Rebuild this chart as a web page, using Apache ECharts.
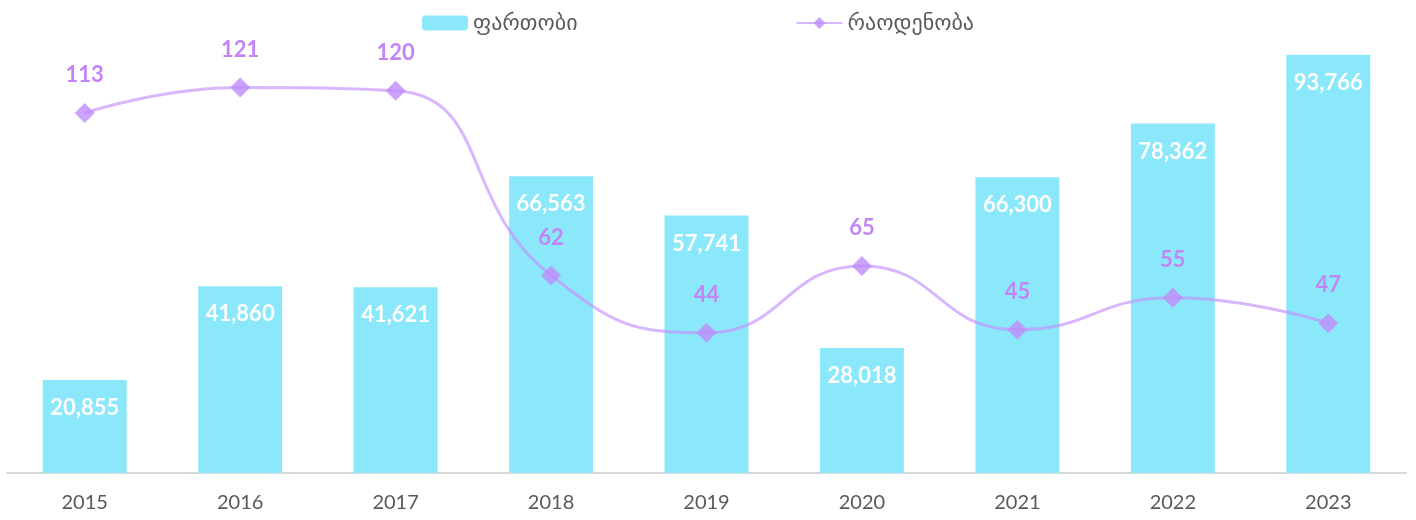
<!DOCTYPE html>
<html>
<head>
<meta charset="utf-8">
<script src="https://cdn.jsdelivr.net/npm/echarts@6/dist/echarts.min.js"></script>
<style>
  html, body { margin: 0; padding: 0; background: #fff; }
  #chart { width: 1416px; height: 520px; }
</style>
</head>
<body>
<div id="chart"></div>
<script>
var years = ['2015', '2016', '2017', '2018', '2019', '2020', '2021', '2022', '2023'];
var area = [20855, 41860, 41621, 66563, 57741, 28018, 66300, 78362, 93766];
var count = [113, 121, 120, 62, 44, 65, 45, 55, 47];

var font = 'Lato, "DejaVu Sans", sans-serif';
var myChart = echarts.init(document.getElementById('chart'));
myChart.setOption({
    animation: false,
    textStyle: { fontFamily: font },
    legend: {
        top: 7,
        left: 417,
        itemWidth: 46,
        itemHeight: 15,
        itemGap: 218,
        textStyle: { fontSize: 22, color: '#595959', fontFamily: font },
        data: ['ფართობი', 'რაოდენობა']
    },
    grid: { left: 7, right: 10, top: 27, bottom: 47 },
    xAxis: {
        type: 'category',
        data: years,
        axisLine: { lineStyle: { color: '#d9d9d9', width: 2 } },
        axisTick: { show: false },
        axisLabel: { fontSize: 20, color: '#595959', margin: 20 }
    },
    yAxis: [
        { type: 'value', min: 0, max: 100000, show: false, splitLine: { show: false } },
        { type: 'value', min: 0, max: 140, show: false, splitLine: { show: false } }
    ],
    series: [
        {
            name: 'ფართობი',
            type: 'bar',
            data: area,
            barCategoryGap: '46%',
            itemStyle: { color: '#8be8fb' },
            label: {
                show: true,
                position: 'insideTop',
                distance: 17,
                color: '#fff',
                fontSize: 22,
                fontWeight: 'bold',
                formatter: function (p) { return p.value.toLocaleString('en-US'); }
            }
        },
        {
            name: 'რაოდენობა',
            type: 'line',
            yAxisIndex: 1,
            data: count,
            smooth: 0.5,
            symbol: 'diamond',
            symbolSize: 20,
            lineStyle: { color: 'rgba(195,145,252,0.65)', width: 3 },
            itemStyle: { color: 'rgba(190,140,250,0.8)' },
            label: {
                show: true,
                position: 'top',
                distance: 17,
                color: '#c385f6',
                fontSize: 22,
                fontWeight: 'bold'
            }
        }
    ]
});
</script>
</body>
</html>
